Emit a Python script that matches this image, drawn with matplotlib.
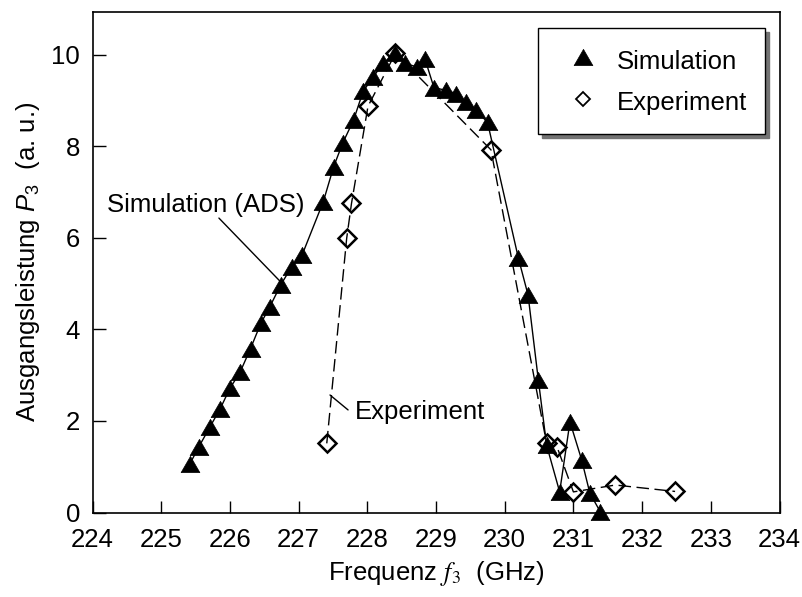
import matplotlib
matplotlib.use('Agg')
import matplotlib.pyplot as plt
from matplotlib.path import Path
from matplotlib.lines import Line2D

# ---- data ----
sim_f = [225.42, 225.55, 225.71, 225.86, 226.00, 226.15, 226.30, 226.45, 226.58,
         226.74, 226.90, 227.05, 227.36, 227.51, 227.64, 227.80, 227.94, 228.09,
         228.23, 228.40, 228.55, 228.72, 228.84, 228.97, 229.14, 229.29, 229.43,
         229.58, 229.75, 230.20, 230.34, 230.49, 230.61, 230.80, 230.95, 231.12,
         231.24, 231.39]
sim_p = [1.07, 1.44, 1.87, 2.27, 2.71, 3.07, 3.58, 4.13, 4.49,
         4.97, 5.37, 5.62, 6.79, 7.55, 8.06, 8.57, 9.20, 9.52,
         9.81, 10.03, 9.81, 9.73, 9.90, 9.28, 9.22, 9.15, 8.97,
         8.79, 8.52, 5.55, 4.75, 2.89, 1.47, 0.45, 1.98, 1.15,
         0.42, 0.02]

exp_f = [227.41, 227.70, 227.77, 228.01, 228.41, 229.80, 230.61, 230.76, 231.00,
         231.61, 232.48]
exp_p = [1.51, 5.99, 6.75, 8.87, 10.03, 7.92, 1.51, 1.44, 0.45, 0.60, 0.46]

x_ticks = [224, 225, 226, 227, 228, 229, 230, 231, 232, 233, 234]
y_ticks = [0, 2, 4, 6, 8, 10]
legend_labels = ['Simulation', 'Experiment']

plt.rcParams['font.family'] = ['Liberation Sans', 'DejaVu Sans']
plt.rcParams['mathtext.fontset'] = 'custom'
plt.rcParams['mathtext.rm'] = 'Liberation Sans'
plt.rcParams['mathtext.it'] = 'Liberation Sans:italic'

fig = plt.figure(figsize=(8.02, 5.97), dpi=100)
ax = fig.add_axes([92.5 / 802, 1 - 512.5 / 597, 687 / 802, 500.5 / 597])

tri = Path([(-1, -0.866), (1, -0.866), (0, 0.866), (-1, -0.866)],
           [Path.MOVETO, Path.LINETO, Path.LINETO, Path.CLOSEPOLY])

ax.plot(sim_f, sim_p, color='black', lw=1.0, marker=tri, ms=13.5,
        mfc='black', mec='black', mew=0.5, clip_on=False, zorder=3)
ax.plot(exp_f, exp_p, color='black', lw=1.0, dashes=[9, 4], marker='D', ms=9,
        mfc='none', mec='black', mew=1.8, clip_on=False, zorder=4)

ax.set_xlim(224, 234)
ax.set_ylim(0, 10.93)
ax.set_xticks(x_ticks)
ax.set_yticks(y_ticks)
ax.tick_params(direction='in', length=9, width=1.0, labelsize=18.5,
               top=False, right=False)
ax.tick_params(axis='x', pad=11)
ax.tick_params(axis='y', pad=9)
for s in ax.spines.values():
    s.set_linewidth(1.2)

ax.set_xlabel(r'Frequenz $f_3$  (GHz)', fontsize=18.5, math_fontfamily='stix', labelpad=5)
ax.set_ylabel(r'Ausgangsleistung $P_3$  (a. u.)', fontsize=18.5, labelpad=7)

# annotations
ax.annotate('', xy=(226.73, 5.05), xytext=(225.84, 6.43),
            arrowprops=dict(arrowstyle='-', lw=1.0, color='black', shrinkA=0, shrinkB=0))
ax.text(227.09, 6.71, 'Simulation (ADS)', ha='right', va='center', fontsize=18.5)
ax.annotate('', xy=(227.72, 2.24), xytext=(227.457, 2.566),
            arrowprops=dict(arrowstyle='-', lw=1.0, color='black', shrinkA=0, shrinkB=0))
ax.text(227.82, 2.19, 'Experiment', ha='left', va='center', fontsize=18.5)

handles = [Line2D([], [], ls='none', marker=tri, ms=13.5, color='black', mew=0.5),
           Line2D([], [], ls='none', marker='D', ms=7.5, mfc='none', mec='black', mew=1.3)]
leg = ax.legend(handles, legend_labels, loc='upper right',
                bbox_to_anchor=(765 / 802, 1 - 28 / 597), bbox_transform=fig.transFigure,
                borderaxespad=0, frameon=True, fancybox=False, edgecolor='black',
                framealpha=1, fontsize=18.5, handlelength=2.1, handletextpad=0.28,
                handleheight=1.32, labelspacing=0.5, borderpad=0.7,
                shadow={'ox': 3, 'oy': -3, 'facecolor': '0.45', 'edgecolor': '0.45', 'alpha': 1})
leg.get_frame().set_linewidth(1.0)

fig.savefig('out.png', dpi=100)
